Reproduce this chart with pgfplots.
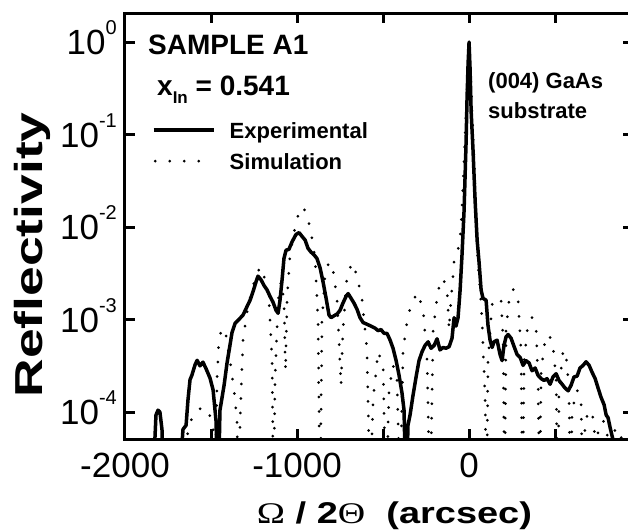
\documentclass[border=0pt]{standalone}
\usepackage{pgfplots}
\pgfplotsset{compat=1.18}
\usepackage{fontspec}
\setmainfont{Liberation Sans}
\newfontfamily\grk{Liberation Serif}
\newcommand{\tl}[1]{10\raisebox{20pt}{\fontsize{20}{22}\selectfont #1}}

\begin{document}
\begin{tikzpicture}
\begin{axis}[
  at={(0,0)}, anchor=south west,
  scale only axis, width=508pt, height=426pt,
  xmin=-2000, xmax=953,
  ymode=log, ymin=5.12e-5, ymax=2.06,
  axis line style={line width=3pt},
  tick style={line width=3pt, black},
  major tick length=10pt,
  xtick={-2000,-1500,-1000,-500,0,500},
  xticklabels={-2000,,-1000,,0,},
  ytick={1e-4,1e-3,1e-2,1e-1,1},
  yticklabels={\tl{-4},\tl{-3},\tl{-2},\tl{-1},\tl{0}},
  yminorticks=false, xminorticks=false,
  tick label style={font=\fontsize{35}{40}\selectfont},
  xticklabel style={anchor=base, yshift=-38pt},
  yticklabel style={anchor=base east, inner sep=0pt, xshift=-8pt, yshift=-12.5pt},
  xlabel={\resizebox{275pt}{\height}{{\grk\mdseries Ω} / 2{\grk\mdseries Θ}\ \ (arcsec)}},
  xlabel style={font=\fontsize{30}{34}\bfseries\selectfont, at={(axis description cs:0.5305,-0.1995)}, anchor=base},
  ylabel={\resizebox{285pt}{\height}{Reflectivity}},
  ylabel style={font=\fontsize{39}{44}\bfseries\selectfont, at={(axis description cs:-0.1627,0.432)}, anchor=base, rotate=0},
  legend style={draw=none, fill=none, at={(axis description cs:0.0531,0.7441)}, anchor=north west,
    inner sep=0pt, outer sep=0pt, row sep=10pt,
    font=\fontsize{22}{26}\bfseries\selectfont,
    nodes={inner sep=0pt, text height=16pt, text depth=5pt}},
  legend cell align=left,
]
\addplot[black, line width=3.5pt, line join=round,
  legend image code/.code={\draw[black, line width=3.5pt] (0pt,2.5pt) -- (60pt,2.5pt); \path[draw=none] (0pt,2.5pt) -- (76pt,2.5pt);}]
coordinates {
(-1843,1e-5) (-1820,9.3e-5) (-1808,1.05e-4) (-1797,1.0e-4) (-1785,6.5e-5) (-1773,1e-5)
(-1692,1e-5) (-1663,6.5e-5) (-1645,7.2e-5) (-1634,1.35e-4) (-1622,2.24e-4) (-1611,2.51e-4)
(-1593,3.24e-4) (-1581,3.63e-4) (-1564,3.16e-4) (-1547,3.47e-4) (-1529,2.95e-4) (-1506,2.34e-4)
(-1488,1.74e-4) (-1471,8.1e-5) (-1459,1e-5) (-1448,1.05e-4) (-1424,1.95e-4) (-1407,3.39e-4)
(-1390,5.25e-4) (-1378,7.24e-4) (-1360,9.12e-4) (-1343,9.8e-4) (-1314,1.12e-3) (-1291,1.38e-3)
(-1273,1.62e-3) (-1256,2.0e-3) (-1238,2.57e-3) (-1227,2.95e-3) (-1209,2.69e-3) (-1192,2.34e-3)
(-1174,2.09e-3) (-1157,1.78e-3) (-1140,1.55e-3) (-1122,1.26e-3) (-1110,1.17e-3) (-1099,1.62e-3)
(-1087,2.69e-3) (-1076,4.57e-3) (-1064,5.62e-3) (-1047,5.75e-3) (-1029,6.92e-3) (-1006,8.32e-3)
(-988,8.71e-3) (-971,7.94e-3) (-953,7.24e-3) (-936,5.89e-3) (-919,5.37e-3) (-901,5.01e-3)
(-884,4.57e-3) (-866,3.63e-3) (-849,2.57e-3) (-831,1.70e-3) (-814,1.12e-3) (-802,1.05e-3)
(-785,1.10e-3) (-767,1.15e-3) (-750,1.26e-3) (-733,1.51e-3) (-715,1.78e-3) (-703,1.91e-3)
(-686,1.70e-3) (-669,1.51e-3) (-651,1.29e-3) (-634,1.05e-3) (-616,9.3e-4) (-593,8.9e-4)
(-570,8.5e-4) (-547,8.1e-4) (-529,7.6e-4) (-512,7.8e-4) (-494,7.1e-4) (-477,7.1e-4)
(-459,6.0e-4) (-442,4.9e-4) (-424,3.6e-4) (-407,2.5e-4) (-390,1.62e-4) (-378,1.05e-4)
(-366,1e-5) (-355,7.2e-5) (-343,9.3e-5) (-326,1.51e-4) (-308,2.4e-4) (-291,3.6e-4)
(-273,4.5e-4) (-256,5.25e-4) (-238,5.75e-4) (-221,4.9e-4) (-203,5.25e-4) (-186,6.2e-4)
(-169,4.7e-4) (-151,5.0e-4) (-134,4.9e-4) (-116,5.1e-4) (-99,6.3e-4) (-87,1.05e-3)
(-76,8.5e-4) (-64,1.05e-3) (-52,2.09e-3) (-41,5.0e-3) (-29,1.51e-2) (-17,8.7e-2)
(-12,0.234) (-6,0.56) (0,1.0) (6,0.50) (12,0.18) (23,6.8e-2) (35,1.95e-2) (47,7.2e-3)
(58,4.2e-3) (70,2.09e-3) (81,1.70e-3) (99,1.62e-3) (110,8.7e-4) (122,6.0e-4) (134,5.0e-4)
(145,5.75e-4) (163,6.0e-4) (180,4.2e-4) (192,3.6e-4) (203,5.25e-4) (215,6.5e-4) (227,6.9e-4)
(244,6.3e-4) (262,5.1e-4) (279,4.2e-4) (297,3.9e-4) (314,3.2e-4) (331,3.6e-4) (349,3.4e-4)
(366,2.8e-4) (384,3.0e-4) (401,2.5e-4) (419,2.3e-4) (436,2.2e-4) (453,2.3e-4) (471,2.0e-4)
(488,2.4e-4) (506,2.6e-4) (523,2.2e-4) (541,2.0e-4) (558,1.82e-4) (576,1.70e-4) (593,1.95e-4)
(610,2.4e-4) (628,2.45e-4) (645,3.0e-4) (663,3.2e-4) (680,3.5e-4) (698,3.2e-4) (715,2.7e-4)
(733,2.3e-4) (750,1.82e-4) (767,1.45e-4) (785,1.20e-4) (797,9.3e-5) (808,8.7e-5) (820,6.8e-5)
(837,5.0e-5) (855,1e-5)
};
\addlegendentry{Experimental}
\addplot[black, line width=3pt, line cap=round, dash pattern=on 0pt off 14.5pt,
  legend image code/.code={\draw[black, line width=3pt, line cap=round, dash pattern=on 0pt off 14.5pt] (1.5pt,2.5pt) -- (46pt,2.5pt); \path[draw=none] (0pt,2.5pt) -- (76pt,2.5pt);}]
coordinates {
(-1855,1e-5) (-1680,1e-5) (-1645,5.0e-5) (-1611,8.7e-5) (-1576,1.07e-4) (-1541,1.12e-4)
(-1512,1.0e-4) (-1488,6.5e-5) (-1477,1e-5) (-1465,2.24e-4) (-1454,6.0e-4) (-1436,8.1e-4)
(-1413,6.8e-4) (-1390,3.6e-4) (-1366,1.74e-4) (-1349,8.1e-5) (-1340,1e-5) (-1331,8.1e-5)
(-1314,6.0e-4) (-1291,1.20e-3) (-1262,2.09e-3) (-1233,3.24e-3) (-1209,3.7e-3) (-1186,2.69e-3)
(-1163,1.62e-3) (-1145,3.6e-4) (-1137,1e-5) (-1128,2.24e-4) (-1110,1.62e-3) (-1093,2.57e-3)
(-1076,1.62e-3) (-1067,2.8e-4) (-1058,1.62e-3) (-1041,5.0e-3) (-1017,8.9e-3) (-994,1.35e-2)
(-965,1.66e-2) (-942,1.35e-2) (-919,8.9e-3) (-895,4.6e-3) (-878,9.8e-4) (-866,1e-5)
(-855,9.8e-4) (-837,3.0e-3) (-814,4.2e-3) (-791,3.5e-3) (-767,1.62e-3) (-744,1.95e-4)
(-733,7.8e-4) (-709,3.0e-3) (-680,4.1e-3) (-651,3.0e-3) (-622,1.62e-3) (-593,4.7e-4)
(-576,1e-5) (-558,1.35e-4) (-529,4.5e-4) (-500,3.2e-4) (-483,1e-5) (-465,1.74e-4)
(-442,3.2e-4) (-419,2.24e-4) (-401,1e-5) (-384,4.7e-4) (-355,1.12e-3) (-326,1.62e-3)
(-297,1.95e-3) (-267,1.26e-3) (-244,3.6e-4) (-227,1e-5) (-209,7.8e-4) (-180,2.09e-3)
(-151,2.8e-3) (-128,2.09e-3) (-116,7.8e-4) (-105,1.62e-3) (-87,4.2e-3) (-64,5.6e-3)
(-47,9.3e-3) (-29,5.3e-2) (-17,0.18) (-6,0.65) (0,1.0) (6,0.65) (17,0.18) (29,5.3e-2)
(41,1.2e-2) (52,3.9e-3) (64,2.09e-3) (76,9.8e-4) (93,1.35e-4) (102,1e-5) (110,3.6e-4)
(134,1.45e-3) (163,1.74e-3) (186,1.62e-3) (198,6.0e-4) (206,1e-5) (215,7.8e-4) (238,2.0e-3)
(262,2.14e-3) (285,1.62e-3) (302,4.7e-4) (311,1e-5) (320,3.6e-4) (343,9.3e-4) (366,1.05e-3)
(390,7.8e-4) (401,2.24e-4) (410,1e-5) (419,2.8e-4) (442,6.0e-4) (465,6.9e-4) (488,5.25e-4)
(506,2.24e-4) (515,1e-5) (523,1.74e-4) (547,4.7e-4) (570,3.5e-4) (581,1.35e-4) (590,1e-5)
(599,1.05e-4) (628,1.74e-4) (651,1.2e-4) (663,1e-5) (674,8.1e-5) (703,1.05e-4) (727,8.1e-5)
(738,1e-5) (750,6.5e-5) (779,8.1e-5) (802,6.5e-5) (814,1e-5) (826,5.6e-5) (860,6.8e-5)
(884,5.5e-5) (895,1e-5) (936,1e-5)
};
\addlegendentry{Simulation}
\end{axis}
\node[anchor=base west, inner sep=0pt, font=\fontsize{28}{32}\bfseries\selectfont] at (23pt,384pt) {SAMPLE A1};
\node[anchor=base west, inner sep=0pt, font=\fontsize{28}{32}\bfseries\selectfont] at (32pt,344pt) {x\raisebox{-8pt}{\fontsize{17}{20}\selectfont In} = 0.541};
\node[anchor=base west, inner sep=0pt, font=\fontsize{22}{26}\bfseries\selectfont] at (363pt,351pt) {(004) GaAs};
\node[anchor=base west, inner sep=0pt, font=\fontsize{22}{26}\bfseries\selectfont] at (363pt,321pt) {substrate};
\pgfresetboundingbox
\path[use as bounding box] (-125pt,-92pt) rectangle (503pt,439pt);
\end{tikzpicture}
\end{document}
